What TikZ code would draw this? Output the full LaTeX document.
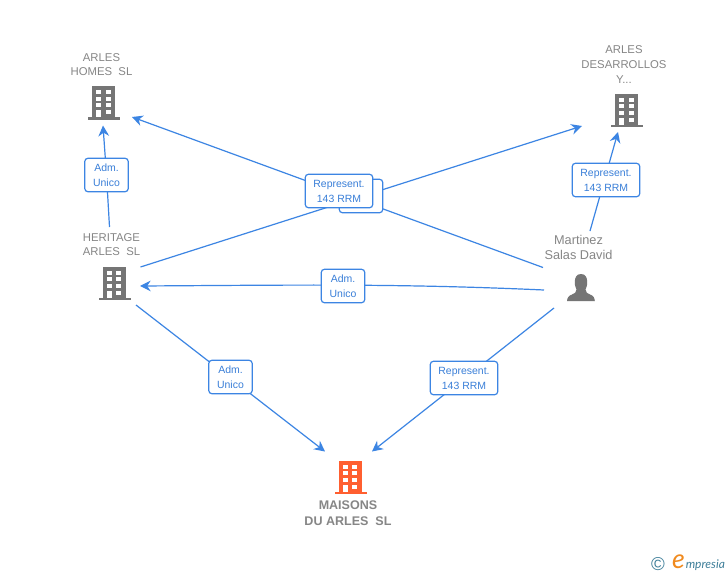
\documentclass[tikz,border=0pt]{standalone}
\usepackage{fontspec}
\setmainfont{Liberation Sans}
\newfontfamily\logofont{Lato}
\usetikzlibrary{arrows.meta}
\definecolor{linkblue}{HTML}{3C85E3}
\definecolor{textblue}{HTML}{3A7FD8}
\definecolor{icongray}{HTML}{757575}
\definecolor{labelgray}{HTML}{868686}
\definecolor{iconorange}{HTML}{FF5F30}
\definecolor{logoteal}{HTML}{3F7F9A}
\definecolor{logoorange}{HTML}{F08A1E}
\tikzset{
  link/.style={draw=linkblue,line width=0.9pt},
  arrowlink/.style={link,-{Stealth[length=8pt,width=8pt,inset=2.6pt]}},
  tag/.style={draw=linkblue,line width=0.9pt,fill=white,rounded corners=2.2pt,inner sep=0pt,
    text=textblue,font=\fontsize{7.85pt}{11.2pt}\selectfont,align=center},
  tagwide/.style={tag,minimum width=50.5pt,minimum height=25pt},
  tagsmall/.style={tag,minimum width=32.5pt,minimum height=25pt},
  caption/.style={text=labelgray,font=\fontsize{8.5pt}{11pt}\selectfont,align=center,inner sep=0pt},
  personcaption/.style={caption,font=\fontsize{9.55pt}{11pt}\selectfont},
  maincaption/.style={caption,font=\fontsize{9.4pt}{12pt}\selectfont\bfseries},
  spot/.style={inner sep=0pt,minimum width=24pt,minimum height=26pt},
  pics/building/.style={code={
    \fill[#1] (-11.5,0) rectangle (11.5,31);
    \fill[#1] (-15.5,31) rectangle (16.5,33.6);
    \foreach \yy in {4,10.7,17.3,24}{
      \fill[white] (-7.5,\yy) rectangle (-2.5,\yy+4);
      \fill[white] (2.2,\yy) rectangle (7.2,\yy+4);
    }
    \fill[white] (-7.5,24) rectangle (-2.5,31);
  }}
}
\begin{document}
\begin{tikzpicture}[x=0.75pt,y=-0.75pt]
\useasboundingbox (0,0) rectangle (728,575);
\fill[white] (0,0) rectangle (728,575);

% icons
\path (103.5,86) pic {building=icongray};
\path (626.5,93.5) pic {building=icongray};
\path (114,266.5) pic {building=icongray};
\path (350,460.5) pic {building=iconorange};
\fill[icongray] (581,274) .. controls (576.5,274) and (574.8,277.5) .. (574.8,282)
  .. controls (574.8,286) and (575.8,288) .. (576.5,289.5)
  .. controls (576.5,292.5) and (574.5,293.5) .. (572,294.5)
  .. controls (568.5,295.8) and (567.3,297.5) .. (567,301) -- (594.8,301)
  .. controls (594.5,297.5) and (593.5,295.8) .. (590,294.5)
  .. controls (587.5,293.5) and (585.5,292.5) .. (585.5,289.5)
  .. controls (586.2,288) and (587.2,286) .. (587.2,282)
  .. controls (587.2,277.5) and (585.5,274) .. (581,274) -- cycle;

% anchors of the icons
\node[spot] (homes) at (103.5,102) {};
\node[spot] (desarrollos) at (626.5,110) {};
\node[spot] (heritage) at (114,283) {};
\node[spot] (maisons) at (350,477) {};
\node[spot] (martinez) at (581,288) {};

% connector ends
\coordinate (e1a) at (109.5,227);
\coordinate (e1b) at (103,125.5);
\coordinate (e2a) at (543,267.5);
\coordinate (e2b) at (132,117);
\coordinate (e3a) at (140.5,267);
\coordinate (e3b) at (582,126);
\coordinate (e4a) at (590,231);
\coordinate (e4b) at (618,132);
\coordinate (e5a) at (544,290);
\coordinate (e5m) at (400,283.5);
\coordinate (e5n) at (300,285);
\coordinate (e5b) at (140,286);
\coordinate (e6a) at (136,305);
\coordinate (e6b) at (325,451.5);
\coordinate (e7a) at (554,308);
\coordinate (e7b) at (372,451.5);

\draw[arrowlink] (e1a) -- (106.5,175) -- (e1b);
\draw[arrowlink] (e2a) -- (e2b);
\draw[arrowlink] (e3a) -- (e3b);
\draw[arrowlink] (e4a) -- (e4b);
\draw[arrowlink] (e5a) .. controls (e5m) and (e5n) .. (e5b);
\draw[arrowlink] (e6a) -- (e6b);
\draw[arrowlink] (e7a) -- (e7b);

% tags
\node[tagsmall] (t1) at (106.5,175) {Adm.\\Unico};
\node[tagsmall] (t5) at (343,286) {Adm.\\Unico};
\node[tagsmall] (t6) at (230.5,377) {Adm.\\Unico};
\node[tagwide] (t4) at (606,180) {Represent.\\143 RRM};
\node[tagwide] (t7) at (464,378) {Represent.\\143 RRM};
\node[tagsmall] (t3) at (361,196) {};
\node[tagwide] (t2) at (339,191) {Represent.\\143 RRM};

% captions
\node[caption] (c1) at (101.5,64.5) {ARLES\\HOMES\ \ SL};
\node[caption] (c2) at (624,64.5) {ARLES\\DESARROLLOS\\Y...};
\node[caption] (c3) at (111.5,244.5) {HERITAGE\\ARLES\ \ SL};
\node[personcaption] (c4) at (578.5,247.5) {Martinez\\Salas David};
\node[maincaption] (c5) at (348,513) {MAISONS\\DU ARLES\ \ SL};

% logo
\node[inner sep=0pt,text=logoteal,font=\fontsize{14pt}{14pt}\selectfont] (copy) at (658,564) {©};
\node[inner sep=0pt,text=logoorange,font=\fontsize{20pt}{20pt}\logofont\itshape] (logoe) at (678.5,562) {e};
\node[inner sep=0pt,anchor=base west,text=logoteal,font=\fontsize{9pt}{10pt}\logofont\itshape] (logotext) at (685.5,568) {mpresia};
\end{tikzpicture}
\end{document}
